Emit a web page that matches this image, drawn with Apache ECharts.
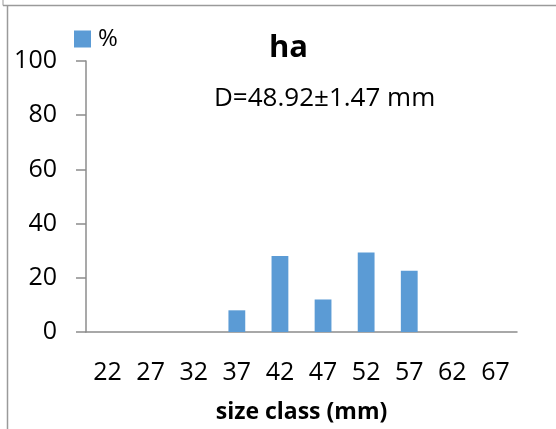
<!DOCTYPE html>
<html>
<head>
<meta charset="utf-8">
<script src="https://cdn.jsdelivr.net/npm/echarts@6/dist/echarts.min.js"></script>
<style>
  html, body { margin: 0; padding: 0; background: #fff; }
  #chart { width: 556px; height: 429px; }
</style>
</head>
<body>
<div id="chart"></div>
<script>
// size classes (mm) and share of each class (%)
const sizeClasses = ['22', '27', '32', '37', '42', '47', '52', '57', '62', '67']
const percent = [0, 0, 0, 8, 28, 12, 29.3, 22.6, 0, 0]
const yTicks = { min: 0, max: 100, interval: 20 }

const font = 'Open Sans'
const axisGrey = '#8c8c8c'

const myChart = echarts.init(document.getElementById('chart'))
myChart.setOption({
  animation: false,
  textStyle: { fontFamily: font, color: '#000' },
  title: [
    {
      text: 'ha',
      left: 269,
      top: 33,
      padding: 0,
      textStyle: { fontFamily: font, fontSize: 31, fontWeight: 'bold', color: '#000' }
    },
    {
      text: 'D=48.92±1.47 mm',
      left: 214,
      top: 86,
      padding: 0,
      textStyle: { fontFamily: font, fontSize: 26, fontWeight: 'normal', color: '#000' }
    }
  ],
  legend: {
    data: ['%'],
    left: 74,
    top: 27,
    padding: 0,
    itemWidth: 17,
    itemHeight: 17,
    itemGap: 7,
    icon: 'rect',
    textStyle: { fontFamily: font, fontSize: 24, color: '#000', padding: [0, 0, 0, 2] }
  },
  grid: { left: 86, right: 39, top: 61, bottom: 96 },
  xAxis: {
    type: 'category',
    data: sizeClasses,
    name: 'size class (mm)',
    nameLocation: 'middle',
    nameGap: 69,
    nameTextStyle: { fontFamily: font, fontSize: 23, fontWeight: 'bold', color: '#000' },
    axisLine: { lineStyle: { color: axisGrey, width: 1.5 } },
    axisTick: { length: 10, lineStyle: { color: axisGrey, width: 1.5 } },
    axisLabel: { margin: 28, fontFamily: font, fontSize: 25, color: '#000' }
  },
  yAxis: {
    type: 'value',
    min: yTicks.min,
    max: yTicks.max,
    interval: yTicks.interval,
    splitLine: { show: false },
    axisLine: { show: true, lineStyle: { color: axisGrey, width: 1.5 } },
    axisTick: { show: true, length: 10, lineStyle: { color: axisGrey, width: 1.5 } },
    axisLabel: { margin: 29, fontFamily: font, fontSize: 25, color: '#000' }
  },
  series: [
    {
      name: '%',
      type: 'bar',
      data: percent,
      barWidth: '39%',
      itemStyle: { color: '#5b9bd5' }
    }
  ],
  graphic: [
    { type: 'line', shape: { x1: 3, y1: 5.5, x2: 556, y2: 5.5 }, style: { stroke: '#9a9a9a', lineWidth: 1.5 } },
    { type: 'line', shape: { x1: 7.5, y1: 5.5, x2: 7.5, y2: 429 }, style: { stroke: '#9a9a9a', lineWidth: 1.5 } },
    { type: 'line', shape: { x1: 3, y1: 0, x2: 3, y2: 5.5 }, style: { stroke: '#9a9a9a', lineWidth: 1 } }
  ]
})
</script>
</body>
</html>
